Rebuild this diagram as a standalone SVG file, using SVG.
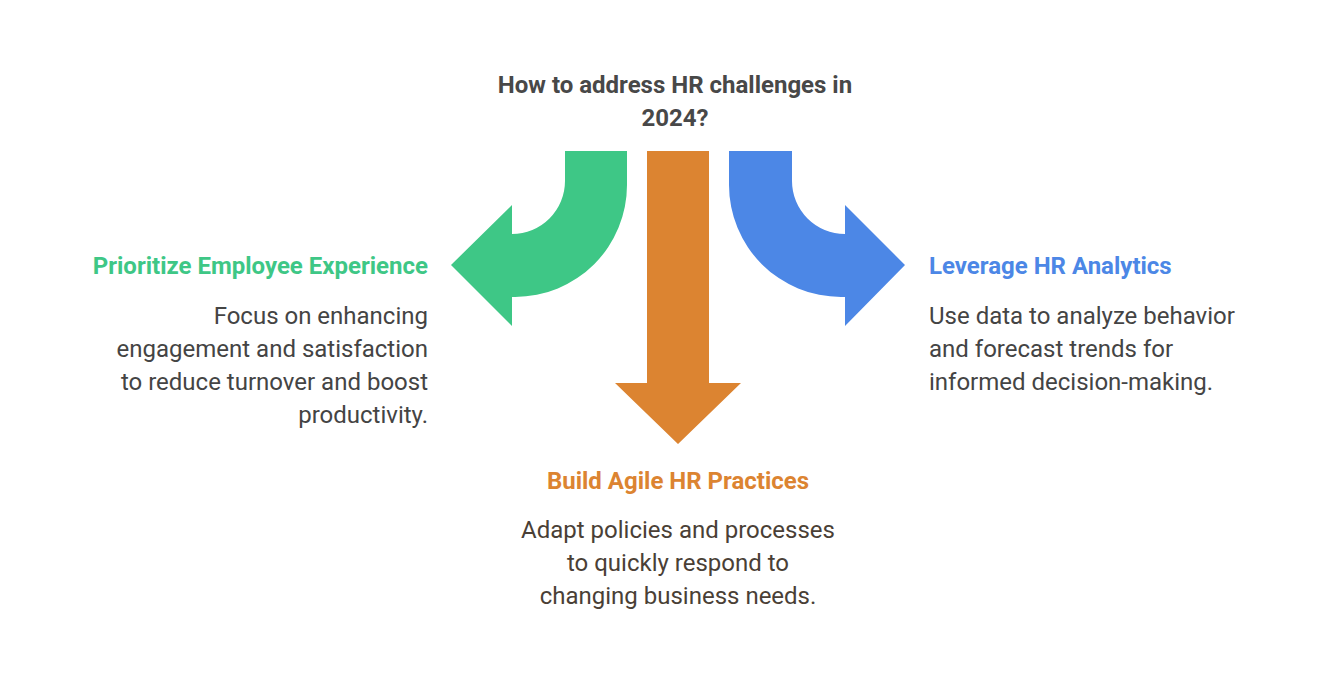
<svg xmlns="http://www.w3.org/2000/svg" width="1323" height="680" viewBox="0 0 1323 680">
<style>
text{font-family:Roboto,"Liberation Sans",sans-serif;font-size:24px;fill:#444}
.t{font-weight:bold;fill:#484848}
.h{font-weight:bold}
</style>
<rect width="1323" height="680" fill="#fff"/>
<g id="title"><text class="t" x="675" y="93" text-anchor="middle">How to address HR challenges in</text><text class="t" x="675" y="126" text-anchor="middle">2024?</text></g>
<g id="connectors">
<path d="M627,151 L627,185 A112,112 0 0 1 515,297 L512,297 L512,326 L451,265 L512,205 L512,234 A53,53 0 0 0 565,181 L565,151 Z" fill="#3EC786"/>
<path d="M729,151 L729,185 A112,112 0 0 0 841,297 L845,297 L845,326 L905,265 L845,205 L845,234 A53,53 0 0 1 792,181 L792,151 Z" fill="#4C87E6"/>
<path d="M647,151 L709,151 L709,383 L741,383 L678,444 L615,383 L647,383 Z" fill="#DC8431"/>
</g>
<g id="employee">
<text class="h" x="428" y="274" text-anchor="end" style="fill:#3EC786">Prioritize Employee Experience</text>
<text x="428" y="324" text-anchor="end">Focus on enhancing</text>
<text x="428" y="357" text-anchor="end">engagement and satisfaction</text>
<text x="428" y="390" text-anchor="end">to reduce turnover and boost</text>
<text x="428" y="423" text-anchor="end">productivity.</text>
</g>
<g id="agile">
<text class="h" x="678" y="489" text-anchor="middle" style="fill:#DC8431">Build Agile HR Practices</text>
<text x="678" y="538" text-anchor="middle" style="fill:#4a3f36">Adapt policies and processes</text>
<text x="678" y="571" text-anchor="middle" style="fill:#4a3f36">to quickly respond to</text>
<text x="678" y="604" text-anchor="middle" style="fill:#4a3f36">changing business needs.</text>
</g>
<g id="analytics">
<text class="h" x="929" y="274" style="fill:#4C87E6">Leverage HR Analytics</text>
<text x="929" y="324">Use data to analyze behavior</text>
<text x="929" y="357">and forecast trends for</text>
<text x="929" y="390">informed decision-making.</text>
</g>
</svg>
